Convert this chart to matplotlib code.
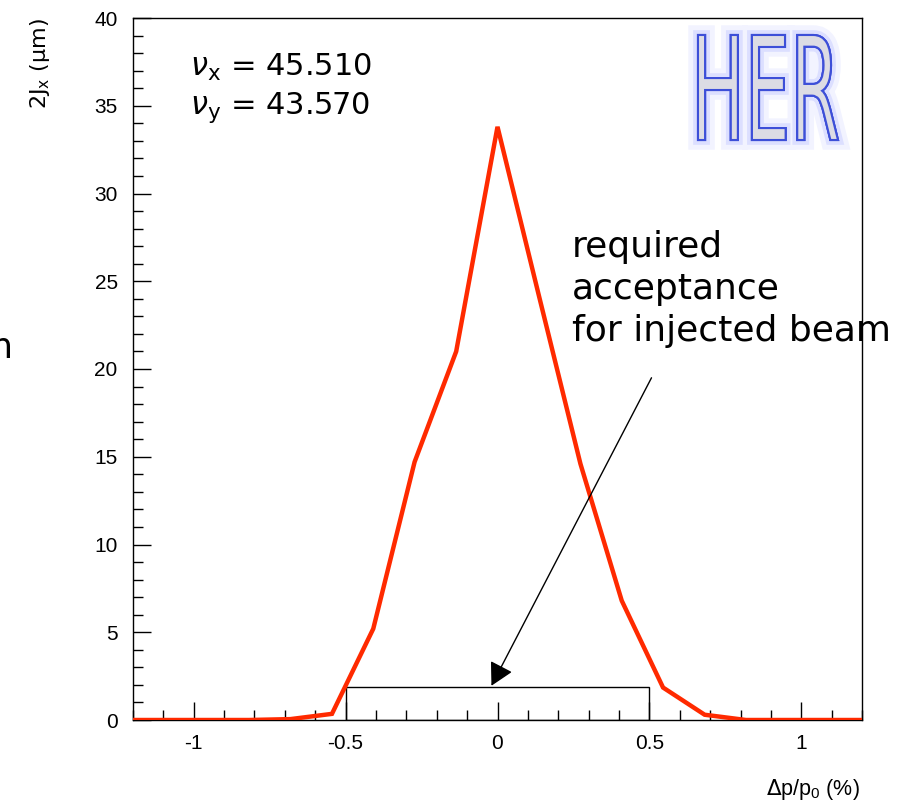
import matplotlib
matplotlib.use("Agg")
import matplotlib.pyplot as plt
import matplotlib.patheffects as pe
from matplotlib.textpath import TextPath
from matplotlib.patches import PathPatch, Rectangle
from matplotlib.font_manager import FontProperties
from matplotlib.transforms import Affine2D
from matplotlib.ticker import MultipleLocator, FormatStrFormatter

# --- data ---
dp = [-1.2, -1.09, -0.954, -0.818, -0.682, -0.545, -0.409, -0.273, -0.136, 0.0,
      0.136, 0.273, 0.409, 0.545, 0.682, 0.818, 0.954, 1.09, 1.2]
two_jx = [0, 0, 0, 0, 0.05, 0.35, 5.2, 14.7, 21.0, 33.8,
          24.2, 14.6, 6.8, 1.85, 0.3, 0, 0, 0, 0]
accept_lo, accept_hi, accept_h = -0.5, 0.5, 1.9
arrow_from = (0.507, 19.5)
arrow_to = (-0.02, 1.95)
nu_x, nu_y = "45.510", "43.570"

plt.rcParams['axes.unicode_minus'] = False
label_font = ['Liberation Sans', 'DejaVu Sans']
text_font = ['DejaVu Sans']

fig = plt.figure(figsize=(9.09, 8.08), dpi=100)
ax = fig.add_axes([133/909, 1 - 720/808, (862 - 133)/909, (720 - 18)/808])

ax.plot(dp, two_jx, color='#ff2a00', lw=3.2, solid_joinstyle='miter', zorder=3)
ax.add_patch(Rectangle((accept_lo, 0), accept_hi - accept_lo, accept_h,
                       fill=False, edgecolor='black', lw=1.0, zorder=2))

ax.set_xlim(-1.2, 1.2)
ax.set_ylim(0, 40)
ax.xaxis.set_major_locator(MultipleLocator(0.5))
ax.xaxis.set_minor_locator(MultipleLocator(0.1))
ax.yaxis.set_major_locator(MultipleLocator(5))
ax.yaxis.set_minor_locator(MultipleLocator(1))
ax.xaxis.set_major_formatter(FormatStrFormatter('%g'))
ax.tick_params(which='both', direction='in', top=False, right=False,
               width=1.0, labelsize=15)
ax.tick_params(which='major', length=13)
ax.tick_params(which='minor', length=7)
ax.tick_params(axis='y', pad=11)
ax.tick_params(axis='x', pad=10)
for lab in ax.get_xticklabels() + ax.get_yticklabels():
    lab.set_family(label_font)
for sp in ax.spines.values():
    sp.set_linewidth(1.0)

# axis titles
fig.text(40/909, 1 - 18/808, r'2J$_\mathregular{x}$ ($\mathregular{\mu}$m)', rotation=90,
         ha='center', va='top', fontsize=16, family=text_font)
fig.text(860/909, 1 - 790/808, r'$\Delta$p/p$_\mathregular{0}$ (%)', ha='right',
         va='center', fontsize=15.5, family=label_font)

# tunes
ax.text(0.078, 0.93, r'$\nu_\mathregular{x}$ = ' + nu_x, transform=ax.transAxes,
        fontsize=22, family=text_font, va='center')
ax.text(0.078, 0.873, r'$\nu_\mathregular{y}$ = ' + nu_y, transform=ax.transAxes,
        fontsize=22, family=text_font, va='center')

# annotation text and arrow
fig.text(572/909, 1 - 230/808, 'required\nacceptance\nfor injected beam',
         fontsize=26, family=text_font, va='top', ha='left', linespacing=1.3)
ax.annotate('', xy=arrow_to, xytext=arrow_from, annotation_clip=False,
            arrowprops=dict(arrowstyle='-|>,head_length=0.7,head_width=0.38',
                            color='black', lw=1.0, mutation_scale=20,
                            shrinkA=0, shrinkB=0))

# stray fragment at left edge
fig.text(-22/909, 1 - 348/808, 'm', fontsize=26, family=text_font,
         ha='left', va='center')

# HER logo
tp = TextPath((0, 0), 'HER', size=100, prop=FontProperties(family='DejaVu Sans'))
bb = tp.get_extents()
x0, y0, w, h = 698, 808 - 140, 140, 105
tr = Affine2D().translate(-bb.x0, -bb.y0).scale(w / bb.width / 909, h / bb.height / 808) \
    .translate(x0 / 909, y0 / 808)
logo = PathPatch(tr.transform_path(tp), transform=fig.transFigure,
                 facecolor='#dcdce4', edgecolor='#3d4fd8', lw=1.5,
                 path_effects=[pe.withStroke(linewidth=14, foreground='#b8beff', alpha=0.18),
                               pe.withStroke(linewidth=7, foreground='#8f99ff', alpha=0.22),
                               pe.Normal()])
fig.add_artist(logo)

fig.savefig('out.png', dpi=100)
